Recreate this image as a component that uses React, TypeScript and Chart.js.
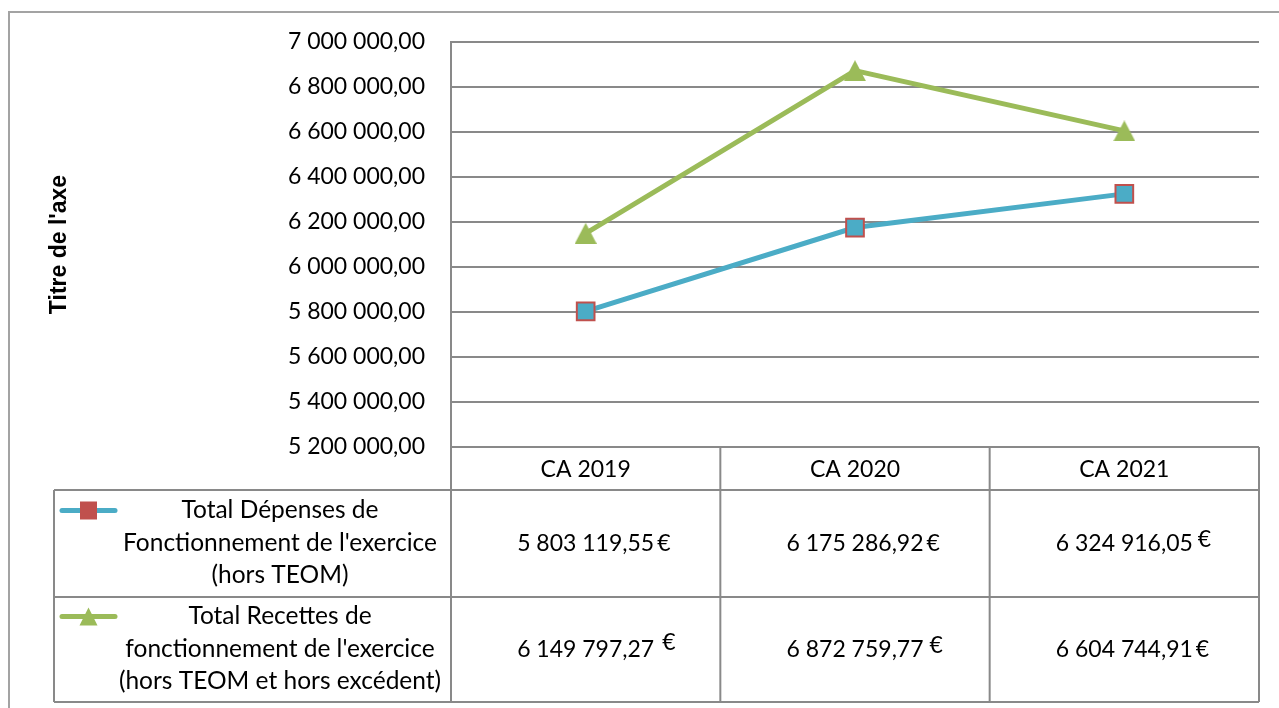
import React, { useEffect, useRef } from 'react';
import { Chart, registerables } from 'chart.js';

Chart.register(...registerables);

const categories = ['CA 2019', 'CA 2020', 'CA 2021'];
const depenses = [5803119.55, 6175286.92, 6324916.05];
const recettes = [6149797.27, 6872759.77, 6604744.91];
const depensesLabel = ['Total Dépenses de', "Fonctionnement de l'exercice", '(hors TEOM)'];
const recettesLabel = ['Total Recettes de', "fonctionnement de l'exercice", '(hors TEOM et hors excédent)'];
const yMin = 5200000;
const yMax = 7000000;
const yStep = 200000;
const axisTitle = "Titre de l'axe";
const currency = '€';

const BLUE = '#4BACC6';
const RED = '#C0504D';
const GREEN = '#9BBB59';
const GRID = '#898989';
const FONT = 'Lato';

function fmt(v: number): string {
  const [i, d] = v.toFixed(2).split('.');
  return i.replace(/\B(?=(\d{3})+(?!\d))/g, ' ') + ',' + d;
}

function makeTriangle(w: number, h: number): HTMLCanvasElement {
  const c = document.createElement('canvas');
  c.width = w;
  c.height = h;
  const g = c.getContext('2d')!;
  g.fillStyle = GREEN;
  g.beginPath();
  g.moveTo(w / 2, 0);
  g.lineTo(w, h);
  g.lineTo(0, h);
  g.closePath();
  g.fill();
  return c;
}

const framePlugin = {
  id: 'frame',
  beforeDraw(chart: any) {
    const ctx = chart.ctx;
    ctx.save();
    ctx.strokeStyle = '#A3A3A3';
    ctx.lineWidth = 2;
    ctx.beginPath();
    ctx.moveTo(9, chart.height);
    ctx.lineTo(9, 12);
    ctx.lineTo(chart.width, 12);
    ctx.stroke();
    ctx.restore();
  },
};

const tablePlugin = {
  id: 'dataTable',
  afterDraw(chart: any) {
    const ctx = chart.ctx;
    const { left, right, bottom } = chart.chartArea;
    const xs = chart.scales.x;
    const centers = categories.map((_, i) => xs.getPixelForValue(i));
    const half = (centers[1] - centers[0]) / 2;
    const bounds = [left, ...centers.slice(0, -1).map((c) => c + half), right];
    const headerBottom = bottom + 43;
    const row1Bottom = headerBottom + 107;
    const row2Bottom = row1Bottom + 105;
    const legendLeft = 54;

    ctx.save();
    ctx.strokeStyle = GRID;
    ctx.lineWidth = 2;
    ctx.beginPath();
    for (let i = 0; i < bounds.length; i++) {
      ctx.moveTo(bounds[i], bottom);
      ctx.lineTo(bounds[i], row2Bottom);
    }
    ctx.moveTo(legendLeft, headerBottom);
    ctx.lineTo(legendLeft, row2Bottom);
    [headerBottom, row1Bottom, row2Bottom].forEach((y) => {
      ctx.moveTo(legendLeft, y);
      ctx.lineTo(right, y);
    });
    ctx.stroke();

    ctx.fillStyle = '#000';
    ctx.textAlign = 'center';
    ctx.textBaseline = 'middle';
    ctx.font = `23px ${FONT}`;
    categories.forEach((c, i) => {
      ctx.fillText(c, centers[i], (bottom + headerBottom) / 2 + 1);
    });

    // legend text
    const legendCx = 280;
    const r1 = (headerBottom + row1Bottom) / 2;
    const r2 = (row1Bottom + row2Bottom) / 2;
    ctx.font = `24.5px ${FONT}`;
    depensesLabel.forEach((t, k) => ctx.fillText(t, legendCx, r1 - 33 + k * 32.5));
    recettesLabel.forEach((t, k) => ctx.fillText(t, legendCx, r2 - 33 + k * 32.5));

    // legend keys
    ctx.lineCap = 'round';
    ctx.lineWidth = 5;
    ctx.strokeStyle = BLUE;
    ctx.beginPath();
    ctx.moveTo(62, r1 - 33);
    ctx.lineTo(115, r1 - 33);
    ctx.stroke();
    ctx.fillStyle = RED;
    ctx.fillRect(80, r1 - 33 - 9, 17, 18);
    ctx.strokeStyle = GREEN;
    ctx.beginPath();
    ctx.moveTo(62, r2 - 33);
    ctx.lineTo(115, r2 - 33);
    ctx.stroke();
    ctx.fillStyle = GREEN;
    ctx.beginPath();
    ctx.moveTo(88.5, r2 - 33 - 9);
    ctx.lineTo(97.5, r2 - 33 + 9);
    ctx.lineTo(79.5, r2 - 33 + 9);
    ctx.closePath();
    ctx.fill();

    // values
    ctx.font = `23px ${FONT}`;
    const raise = [[0, 0, 4], [7, 4, 0]];
    const gap = [[3, 3, 5], [8, 6, 3]];
    ctx.fillStyle = '#000';
    [depenses, recettes].forEach((arr, r) => {
      const cy = r === 0 ? r1 : r2;
      arr.forEach((v, i) => {
        const s = fmt(v);
        ctx.textAlign = 'center';
        ctx.fillText(s, centers[i], cy);
        const w = ctx.measureText(s).width;
        ctx.textAlign = 'left';
        ctx.fillText(currency, centers[i] + w / 2 + gap[r][i], cy - raise[r][i]);
      });
    });
    ctx.restore();
  },
};

export default function App() {
  const ref = useRef<HTMLCanvasElement>(null);
  useEffect(() => {
    let chart: Chart | null = null;
    let cancelled = false;
    const build = () => {
      if (cancelled || !ref.current) return;
      const tri = makeTriangle(22, 21);
      chart = new Chart(ref.current, {
        type: 'line',
        data: {
          labels: categories,
          datasets: [
            {
              label: depensesLabel.join(' '),
              data: depenses,
              borderColor: BLUE,
              backgroundColor: BLUE,
              borderWidth: 5,
              pointStyle: 'rect',
              pointRadius: 12.5,
              pointHoverRadius: 12.5,
              pointBackgroundColor: BLUE,
              pointBorderColor: RED,
              pointBorderWidth: 2,
              tension: 0,
            },
            {
              label: recettesLabel.join(' '),
              data: recettes,
              borderColor: GREEN,
              backgroundColor: GREEN,
              borderWidth: 5,
              pointStyle: tri as any,
              pointRadius: 11,
              tension: 0,
            },
          ],
        },
        options: {
          animation: false,
          responsive: false,
          events: [],
          layout: { padding: { left: 46, right: 20, top: 42, bottom: 0 } },
          plugins: { legend: { display: false }, tooltip: { enabled: false } },
          scales: {
            x: {
              type: 'category',
              offset: true,
              ticks: { display: false },
              grid: { display: false },
              border: { display: false },
              afterFit: (s: any) => {
                s.height = 261;
              },
            },
            y: {
              min: yMin,
              max: yMax,
              ticks: {
                stepSize: yStep,
                callback: (v: any) => fmt(Number(v)),
                font: { family: FONT, size: 23 },
                color: '#000',
                padding: 26,
              },
              grid: { color: GRID, lineWidth: 2, drawTicks: false },
              border: { display: true, color: GRID, width: 2 },
              title: {
                display: true,
                text: axisTitle,
                font: { family: 'Liberation Sans', size: 23, weight: 'bold' },
                color: '#000',
                padding: { top: 0, bottom: 0 },
              },
              afterFit: (s: any) => {
                s.width = 451 - 46;
              },
            },
          },
        },
        plugins: [framePlugin, tablePlugin],
      });
    };
    const fonts = (document as any).fonts;
    if (fonts && fonts.load) {
      Promise.all([fonts.load(`23px ${FONT}`), fonts.load('bold 23px "Liberation Sans"')])
        .catch(() => null)
        .then(build);
    } else {
      build();
    }
    return () => {
      cancelled = true;
      if (chart) chart.destroy();
    };
  }, []);
  return (
    <div style={{ position: 'fixed', left: 0, top: 0, width: 1279, height: 708, background: '#fff' }}>
      <canvas ref={ref} width={1279} height={708} style={{ display: 'block' }} />
    </div>
  );
}
